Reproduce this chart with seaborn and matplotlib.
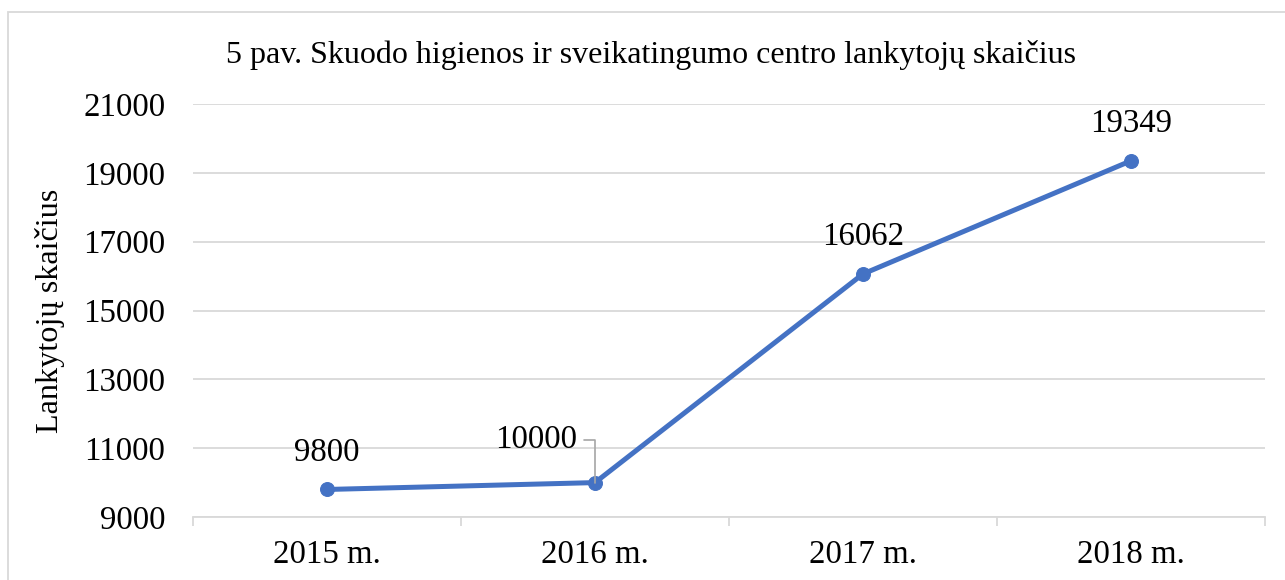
import matplotlib
matplotlib.use("Agg")
import matplotlib.pyplot as plt
from matplotlib.patches import Rectangle
import pandas as pd
import seaborn as sns

# data
years = ["2015 m.", "2016 m.", "2017 m.", "2018 m."]
visitors = [9800, 10000, 16062, 19349]
y_ticks = [9000, 11000, 13000, 15000, 17000, 19000, 21000]

title = "5 pav. Skuodo higienos ir sveikatingumo centro lankytojų skaičius"
y_label = "Lankytojų skaičius"

blue = "#4472C4"
grey = "#D9D9D9"

sns.set_theme(style="white")
plt.rcParams["font.family"] = ["Liberation Serif", "DejaVu Serif"]
plt.rcParams["text.color"] = "black"

data = pd.DataFrame({"year": years, "visitors": visitors})

fig = plt.figure(figsize=(12.85, 5.8), dpi=100)
ax = fig.add_axes([0.1502, 0.1086, 0.8342, 0.7121])

sns.lineplot(data=data, x="year", y="visitors", ax=ax, color=blue,
             linewidth=3.6, marker="o", markersize=10,
             markeredgecolor=blue, sort=False)

ax.set_xlim(-0.5, len(years) - 0.5)
ax.set_ylim(y_ticks[0], y_ticks[-1])
ax.set_yticks(y_ticks)
ax.set_xticks(range(len(years)))
ax.set_xticklabels(years)
ax.set_xticks([i - 0.5 for i in range(len(years) + 1)], minor=True)

ax.tick_params(axis="x", which="major", length=0, pad=16, labelsize=23.7, colors="black")
ax.tick_params(axis="x", which="minor", length=6.5, width=1.3, color=grey, direction="out", bottom=True)
ax.tick_params(axis="y", length=0, pad=20, labelsize=23.7, colors="black")

ax.grid(axis="y", color=grey, linewidth=1.3)
ax.set_axisbelow(True)
for side in ["top", "right", "left"]:
    ax.spines[side].set_visible(False)
ax.spines["bottom"].set_color(grey)
ax.spines["bottom"].set_linewidth(1.3)

ax.set_xlabel("")
ax.set_ylabel(y_label, fontsize=23.2, labelpad=13, color="black")

# data labels
for i, v in enumerate(visitors):
    if i == 1:
        ax.annotate(f"{v}", xy=(i, v), xytext=(-59, 43), textcoords="offset pixels",
                    ha="center", va="center", fontsize=23.7, color="black",
                    arrowprops=dict(arrowstyle="-", color="#A6A6A6", lw=1.2,
                                    connectionstyle="angle,angleA=0,angleB=90,rad=0",
                                    shrinkA=3, shrinkB=0))
    else:
        ax.annotate(f"{v}", xy=(i, v), xytext=(0, 37), textcoords="offset pixels",
                    ha="center", va="center", fontsize=23.7, color="black")

fig.text(0.5066, 0.905, title, ha="center", va="center", fontsize=23, color="black")

# chart frame (cropped at right and bottom)
fig.patches.append(Rectangle((7.5 / 1285, -0.1), 1.2, 1.1 - 11.5 / 580,
                             transform=fig.transFigure, fill=False,
                             edgecolor=grey, linewidth=1.3))

fig.savefig("out.png", dpi=100)
